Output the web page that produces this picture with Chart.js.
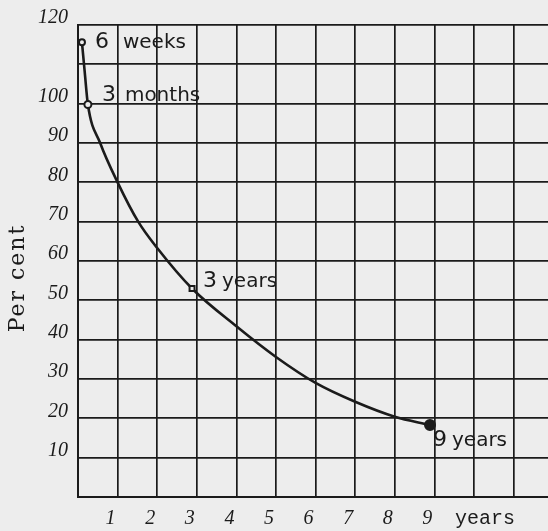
<!DOCTYPE html>
<html>
<head>
<meta charset="utf-8">
<script src="https://cdn.jsdelivr.net/npm/chart.js@4"></script>
<style>
  html, body { margin: 0; padding: 0; background: #ededed; }
  canvas { display: block; }
</style>
</head>
<body>
<canvas id="forgetChart" width="548" height="531"></canvas>
<script>
// points (years, per cent)
const curveYears = [0.1, 0.17, 0.25, 0.56, 1, 1.52, 2, 2.88, 4, 5, 6, 7, 8, 8.89];
const curvePercent = [115.6, 108, 99.8, 90, 80, 70, 63.3, 53, 43.4, 35.6, 29, 24.2, 20.4, 18.3];

// the four marked points and their notes
const markYears = [0.1, 0.25, 2.88, 8.89];
const markPercent = [115.6, 99.8, 53, 18.3];
const markNumbers = ['6', '3', '3', '9'];
const markWords = ['weeks', 'months', 'years', 'years'];

// tick labels that are written on the paper
const yLabelValues = [10, 20, 30, 40, 50, 60, 70, 80, 90, 100, 120];
const xLabelValues = [1, 2, 3, 4, 5, 6, 7, 8, 9];

const ink = '#1b1b1b';

const paperPlugin = {
  id: 'paper',
  beforeDraw(chart) {
    const ctx = chart.ctx;
    ctx.save();
    ctx.fillStyle = '#ededed';
    ctx.fillRect(0, 0, chart.width, chart.height);
    ctx.restore();
  },
  afterDatasetsDraw(chart) {
    const ctx = chart.ctx;
    const xs = chart.scales.x;
    const ys = chart.scales.y;
    // offsets of the notes from their points
    const numDx = [13, 14, 11, 3];
    const wordDx = [41, 37, 30, 22];
    const dy = [6, -3, -2, 21];
    ctx.save();
    ctx.fillStyle = ink;
    ctx.textBaseline = 'alphabetic';
    ctx.textAlign = 'left';
    markYears.forEach((yr, i) => {
      const px = xs.getPixelForValue(yr);
      const py = ys.getPixelForValue(markPercent[i]);
      ctx.font = '22px "DejaVu Sans"';
      ctx.fillText(markNumbers[i], px + numDx[i], py + dy[i]);
      ctx.font = '20px "DejaVu Sans"';
      ctx.fillText(markWords[i], px + wordDx[i], py + dy[i]);
    });

    // unit under the x axis
    ctx.font = '20px "Liberation Mono"';
    ctx.fillText('years', 455, 524);

    // y axis title, rotated
    ctx.translate(24, 278);
    ctx.rotate(-Math.PI / 2);
    ctx.textAlign = 'center';
    ctx.font = '22px "DejaVu Serif"';
    ctx.letterSpacing = '2px';
    ctx.fillText('Per cent', 0, 0);
    ctx.restore();
  },
};

new Chart(document.getElementById('forgetChart').getContext('2d'), {
  type: 'line',
  data: {
    datasets: [
      {
        label: 'marks',
        data: markYears.map((x, i) => ({ x: x, y: markPercent[i] })),
        showLine: false,
        pointStyle: ['circle', 'circle', 'rect', 'circle'],
        pointRadius: [3, 3.5, 3.5, 5],
        pointBorderWidth: 2,
        pointBorderColor: ink,
        pointBackgroundColor: ['#ededed', '#ededed', '#ededed', ink],
        clip: false,
        order: 0,
      },
      {
        label: 'retained',
        data: curveYears.map((x, i) => ({ x: x, y: curvePercent[i] })),
        borderColor: ink,
        borderWidth: 2.6,
        pointRadius: 0,
        cubicInterpolationMode: 'monotone',
        fill: false,
        order: 1,
      },
    ],
  },
  options: {
    responsive: false,
    animation: false,
    layout: { autoPadding: false, padding: { top: 25, right: 0, bottom: 0, left: 0 } },
    plugins: {
      legend: { display: false },
      tooltip: { enabled: false },
    },
    scales: {
      x: {
        type: 'linear',
        min: 0,
        max: 11.87,
        afterFit: (scale) => {
          scale.height = 34;
          scale.paddingLeft = 0;
          scale.paddingRight = 0;
        },
        grid: { color: ink, lineWidth: 1.7, drawTicks: false },
        border: { color: ink, width: 2 },
        ticks: {
          stepSize: 1,
          includeBounds: false,
          padding: 10,
          labelOffset: -7,
          maxRotation: 0,
          autoSkip: false,
          color: ink,
          font: { family: '"Liberation Serif"', style: 'italic', size: 20 },
          callback: (v) => (xLabelValues.includes(v) ? String(v) : ''),
        },
      },
      y: {
        min: 0,
        max: 120,
        afterFit: (scale) => { scale.width = 78; },
        grid: { color: ink, lineWidth: 1.7, drawTicks: false },
        border: { color: ink, width: 2 },
        ticks: {
          stepSize: 10,
          padding: 10,
          labelOffset: -7,
          autoSkip: false,
          color: ink,
          font: { family: '"Liberation Serif"', style: 'italic', size: 20 },
          callback: (v) => (yLabelValues.includes(v) ? String(v) : ''),
        },
      },
    },
  },
  plugins: [paperPlugin],
});
</script>
</body>
</html>
